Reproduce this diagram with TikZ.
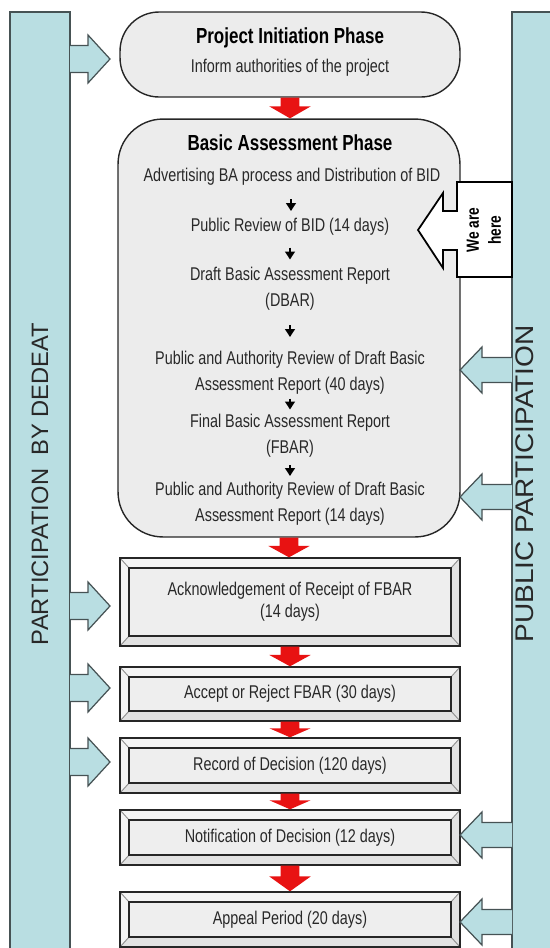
\documentclass[tikz,border=0pt]{standalone}
\usepackage{fontspec}
\usepackage{graphicx}
\setmainfont{Liberation Sans}
\newfontfamily\narrowfont{Liberation Sans}[FakeStretch=0.78]
\usetikzlibrary{calc,arrows.meta}
\definecolor{barblue}{RGB}{185,222,226}
\definecolor{boxgray}{RGB}{236,236,236}
\definecolor{facegray}{RGB}{238,238,238}
\definecolor{bandlight}{RGB}{244,244,244}
\definecolor{banddark}{RGB}{226,226,226}
\definecolor{arrred}{RGB}{232,18,18}
\definecolor{edgegray}{RGB}{70,82,84}
\definecolor{txtgray}{RGB}{40,40,40}

\newcommand\redflow[2]{%
  \fill[arrred] let \p1=(#1), \p2=(#2), \n1={\y1+0.42*(\y2-\y1)} in
  (\x1-5.4pt,\y1) -- (\x1+5.4pt,\y1) -- (\x1+5.4pt,{\n1*1pt}) -- (\x1+11.8pt,{\n1*1pt})
  -- (\x1,\y2) -- (\x1-11.8pt,{\n1*1pt}) -- (\x1-5.4pt,{\n1*1pt}) -- cycle;}
\newcommand\inarrowL[1]{\filldraw[bluearr] (70,{#1-13.5}) -- (88,{#1-13.5}) -- (88,{#1-24}) -- (110,#1) -- (88,{#1+24}) -- (88,{#1+13.5}) -- (70,{#1+13.5});}
\newcommand\inarrowR[1]{\filldraw[bluearr] (512,{#1-12.5}) -- (482,{#1-12.5}) -- (482,{#1-23}) -- (460,#1) -- (482,{#1+23}) -- (482,{#1+12.5}) -- (512,{#1+12.5});}

\begin{document}
\begin{tikzpicture}[x=0.02cm,y=-0.02cm,
  bar/.style={fill=barblue,draw=edgegray,line width=0.7pt},
  barlabel/.style={rotate=90,font=\fontsize{13.5}{16}\selectfont,inner sep=0pt,text=txtgray},
  bluearr/.style={fill=barblue,draw=edgegray,line width=0.7pt,line join=miter},
  phasebox/.style={draw=black!85,line width=0.8pt,fill=boxgray,inner sep=0pt,minimum width=6.8cm},
  titletext/.style={font=\narrowfont\bfseries\fontsize{12.4}{15}\selectfont,inner sep=0pt,text=black},
  bodytext/.style={font=\narrowfont\fontsize{10.5}{14.8}\selectfont,align=center,inner sep=0pt,text=txtgray},
  smallarr/.style={-{Triangle[length=4.5pt,width=5.5pt]},line width=1.1pt,black},
  bevel/.style={draw=black!85,line width=0.8pt,fill=bandlight,minimum width=6.8cm,inner sep=0pt,
    font=\narrowfont\fontsize{10.5}{12.6}\selectfont,align=center,text=txtgray,
    path picture={
      \coordinate (pa) at (path picture bounding box.north west);
      \coordinate (pb) at (path picture bounding box.south east);
      \coordinate (pc) at ([shift={(9,10)}]pa);
      \coordinate (pd) at ([shift={(-9,-10)}]pb);
      \fill[banddark] (pb|-pa) -- (pd|-pc) -- (pd) -- (pc|-pd) -- (pa|-pb) -- (pb) -- cycle;
      \fill[facegray] (pc) rectangle (pd);
      \draw[black!45,line width=0.5pt] (pa) -- (pc) (pb|-pa) -- (pd|-pc) (pb) -- (pd) (pa|-pb) -- (pc|-pd);
      \draw[black!85,line width=0.8pt] (pc) rectangle (pd);
    }},
]
\useasboundingbox (0,0) rectangle (550,948);

% side bars
\fill[barblue] (10,12) rectangle (70,960);
\draw[edgegray,line width=0.7pt] (10,960) -- (10,12) -- (70,12) -- (70,960);
\fill[barblue] (512,12) rectangle (560,960);
\draw[edgegray,line width=0.7pt] (560,12) -- (512,12) -- (512,960);
\node[barlabel] (lefttxt) at (40,484) {PARTICIPATION\ \ BY DEDEAT};
\node[barlabel,font=\fontsize{14.5}{16}\selectfont] (righttxt) at (525,484) {\scalebox{1.1}[1]{PUBLIC PARTICIPATION}};

% project initiation
\node[phasebox,rounded corners=0.78cm,minimum height=1.7cm] (proj) at (290,54.5) {};
\node[titletext] (projT) at (290,38) {Project Initiation Phase};
\node[bodytext] (projS) at (290,68) {Inform authorities of the project};

% basic assessment
\node[phasebox,rounded corners=0.9cm,minimum width=6.84cm,minimum height=8.36cm] (ba) at (289,328) {};
\node[titletext] (baT) at (290,143) {Basic Assessment Phase};
\node[bodytext] (a1) at (292,177) {Advertising BA process and Distribution of BID};
\node[bodytext] (a2) at (290,227) {Public Review of BID (14 days)};
\node[bodytext] (a3) at (290,289) {Draft Basic Assessment Report\\(DBAR)};
\node[bodytext] (a4) at (290,373) {Public and Authority Review of Draft Basic\\Assessment Report (40 days)};
\node[bodytext] (a5) at (290,436) {Final Basic Assessment Report\\(FBAR)};
\node[bodytext] (a6) at (290,504) {Public and Authority Review of Draft Basic\\Assessment Report (14 days)};
\draw[smallarr] ($(a1.south)!.5!(a2.north)$) ++(0,-3) -- ++(0,12);
\draw[smallarr] ($(a2.south)!.5!(a3.north)$) ++(0,-4) -- ++(0,12);
\draw[smallarr] ($(a3.south)!.5!(a4.north)$) ++(0,-6) -- ++(0,12);
\draw[smallarr] ($(a4.south)!.5!(a5.north)$) ++(0,-6) -- ++(0,11);
\draw[smallarr] ($(a5.south)!.5!(a6.north)$) ++(0,-5) -- ++(0,11);

% beveled boxes
\node[bevel,minimum height=1.76cm] (ack) at (290,602) {Acknowledgement of Receipt of FBAR\\(14 days)};
\node[bevel,minimum height=1.08cm] (acc) at (290,694) {Accept or Reject FBAR (30 days)};
\node[bevel,minimum height=1.1cm] (rec) at (290,765.5) {Record of Decision (120 days)};
\node[bevel,minimum height=1.1cm] (noti) at (290,837.5) {Notification of Decision (12 days)};
\node[bevel,minimum height=1.1cm] (app) at (290,919.5) {Appeal Period (20 days)};

% red flow arrows
\redflow{proj.south}{ba.north}
\redflow{ba.south}{ack.north}
\redflow{ack.south}{acc.north}
\redflow{acc.south}{rec.north}
\redflow{rec.south}{noti.north}
\redflow{noti.south}{app.north}

% participation arrows
\inarrowL{59}
\inarrowL{606}
\inarrowL{688}
\inarrowL{762}
\inarrowR{370}
\inarrowR{497}
\inarrowR{835}
\inarrowR{922}

% we are here callout
\filldraw[fill=white,draw=black,line width=1pt,line join=miter]
  (457,182) -- (512,182) -- (512,277) -- (457,277) -- (457,250) -- (443,250) -- (443,268)
  -- (418,230) -- (443,193) -- (443,211) -- (457,211) -- cycle;
\node[rotate=90,align=center,font=\narrowfont\bfseries\fontsize{10}{12.5}\selectfont,inner sep=0pt] (here) at (484,230) {We are\\here};
\end{tikzpicture}
\end{document}
